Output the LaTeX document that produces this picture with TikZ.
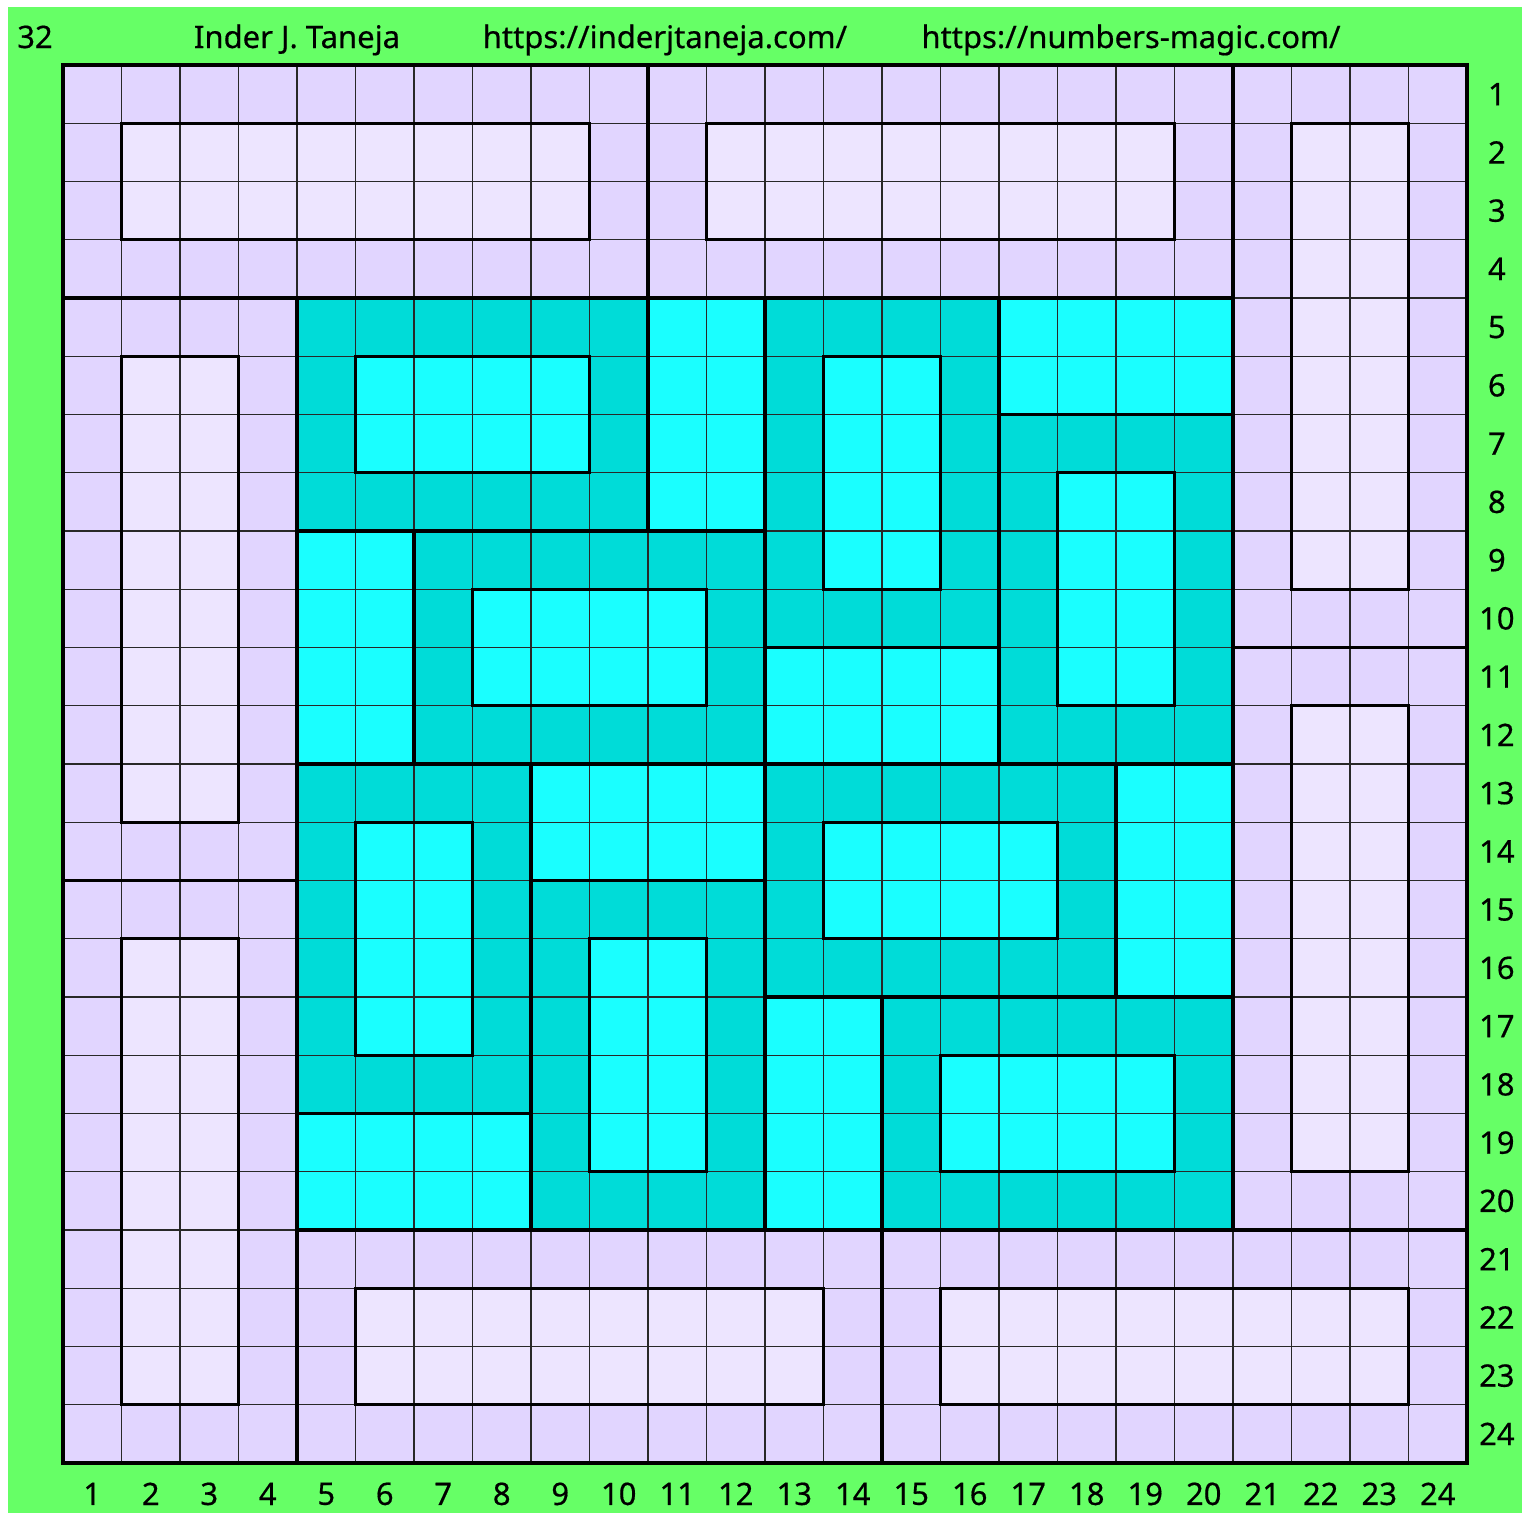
\documentclass[tikz,border=0pt]{standalone}
\usepackage{fontspec}
\setmainfont{Noto Sans}
\newfontfamily\lblfont[FakeBold=0.5]{Noto Sans}
\definecolor{bg}{RGB}{102,255,102}
\definecolor{lav}{RGB}{225,213,255}
\definecolor{lite}{RGB}{237,229,255}
\definecolor{dcy}{RGB}{0,220,216}
\definecolor{bcy}{RGB}{26,255,255}
\definecolor{gridc}{RGB}{40,40,40}
\tikzset{
  thinline/.style={draw=gridc,line width=1.3pt},
  thickline/.style={draw=black,line width=3.2pt},
  lbl/.style={font=\lblfont\fontsize{31}{36}\selectfont,inner sep=0pt,text=black},
}
\begin{document}
\begin{tikzpicture}[x=1pt,y=1pt]
\useasboundingbox (0,0) rectangle (1527,-1515);
\fill[white] (0,0) rectangle (1527,-1515);
\fill[bg] (8,-7) rectangle (1522,-1513);
\node[lbl,anchor=base] (t32) at (35,-48) {32};
\node[lbl,anchor=base] (tname) at (297,-48) {Inder J. Taneja};
\node[lbl,anchor=base] (tweb1) at (665,-48) {https://inderjtaneja.com/};
\node[lbl,anchor=base] (tweb2) at (1131,-48) {https://numbers-magic.com/};
\begin{scope}[shift={(63pt,-65pt)},x=58.5pt,y=-58.25pt]
  \fill[lav] (0,0) rectangle (24,24);
  \foreach \a/\b/\c/\d in {1/1/9/3, 11/1/19/3, 21/1/23/9, 21/11/23/19, 5/21/13/23, 15/21/23/23, 1/5/3/13, 1/15/3/23}
    \fill[lite] (\a,\b) rectangle (\c,\d);
  \fill[dcy] (4,4) rectangle (20,20);
  \foreach \a/\b/\c/\d in {5/5/9/7, 10/4/12/8, 13/5/15/9, 16/4/20/6, 17/7/19/11, 4/8/6/12, 7/9/11/11, 12/10/16/12, 5/13/7/17, 4/18/8/20, 8/12/12/14, 9/15/11/19, 13/13/17/15, 18/12/20/16, 12/16/14/20, 15/17/19/19}
    \fill[bcy] (\a,\b) rectangle (\c,\d);
  \foreach \i in {1,...,23} {
    \draw[thinline] (\i,0) -- (\i,24);
    \draw[thinline] (0,\i) -- (24,\i);
  }
  \foreach \a/\b/\c/\d in {1/1/9/3, 11/1/19/3, 21/1/23/9, 21/11/23/19, 5/21/13/23, 15/21/23/23, 1/5/3/13, 1/15/3/23,
      5/5/9/7, 10/4/12/8, 13/5/15/9, 16/4/20/6, 17/7/19/11, 4/8/6/12, 7/9/11/11, 12/10/16/12, 5/13/7/17, 4/18/8/20, 8/12/12/14, 9/15/11/19, 13/13/17/15, 18/12/20/16, 12/16/14/20, 15/17/19/19,
      0/0/10/4, 10/0/20/4, 20/0/24/10, 20/10/24/20, 4/20/14/24, 14/20/24/24, 0/4/4/14, 0/14/4/24,
      4/4/10/8, 12/4/16/10, 16/6/20/12, 6/8/12/12, 4/12/8/18, 8/14/12/20, 12/12/18/16, 14/16/20/20}
    \draw[thickline] (\a,\b) rectangle (\c,\d);
  \draw[thickline] (0,0) rectangle (24,24);
  \foreach \r in {1,...,24}
    \node[lbl] (rn\r) at (24.51,\r-0.5) {\r};
  \foreach \c in {1,...,24}
    \node[lbl] (cn\c) at (\c-0.5,24.53) {\c};
\end{scope}
\end{tikzpicture}
\end{document}
